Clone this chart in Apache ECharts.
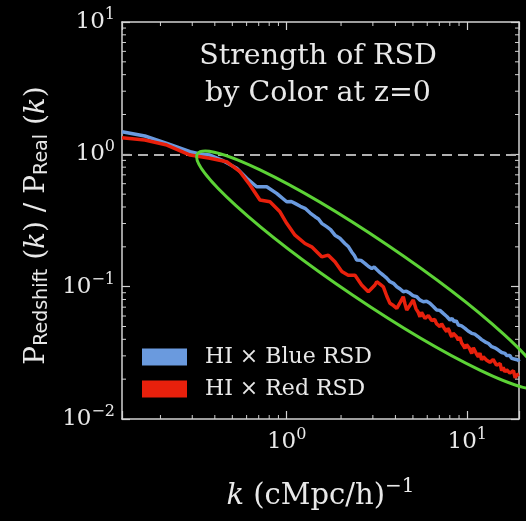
<!DOCTYPE html>
<html><head><meta charset="utf-8">
<script src="https://cdn.jsdelivr.net/npm/echarts@6/dist/echarts.min.js"></script>
<style>html,body{margin:0;padding:0;background:#000;}#c{width:526px;height:521px;}</style>
</head><body><div id="c"></div>
<script>
// ---- data ----
const blueK = [0.1225,0.164,0.217,0.292,0.331,0.376,0.444,0.529,0.601,0.682,0.775,0.88,1.0,1.06,1.112,1.19,1.263,1.35,1.435,1.5,1.563,1.664,1.75,1.85,1.97,2.10,2.2,2.29,2.37,2.44,2.58,2.71,2.84,2.96,3.05,3.15,3.3,3.43,3.58,3.73,3.9,4.07,4.16,4.25,4.33,4.42,4.51,4.6,4.7,4.82,4.91,5.0,5.12,5.25,5.35,5.45,5.58,5.71,5.83,5.95,6.08,6.21,6.35,6.5,6.63,6.77,6.9,7.05,7.2,7.36,7.53,7.7,7.86,8.02,8.23,8.45,8.68,8.92,9.1,9.3,9.5,9.71,9.9,10.1,10.35,10.58,10.8,11.0,11.25,11.51,11.75,12.0,12.25,12.53,12.8,13.1,13.35,13.65,13.9,14.2,14.5,14.85,15.2,15.5,15.8,16.17,16.5,16.9,17.2,17.6,18.0,18.4,18.8,19.16,19.33];
const blueP = [1.48,1.375,1.21,1.046,1.005,0.988,0.895,0.784,0.659,0.569,0.569,0.507,0.438,0.44,0.426,0.405,0.391,0.36,0.338,0.325,0.301,0.284,0.27,0.245,0.232,0.212,0.2,0.183,0.172,0.159,0.158,0.150,0.142,0.137,0.141,0.135,0.127,0.122,0.116,0.109,0.106,0.0998,0.0975,0.096,0.0945,0.0915,0.094,0.0925,0.0905,0.089,0.0875,0.0855,0.087,0.0839,0.0815,0.0795,0.0805,0.0769,0.079,0.0775,0.0755,0.0748,0.0725,0.0705,0.0715,0.0666,0.0685,0.0662,0.0645,0.0628,0.0635,0.0595,0.0605,0.056,0.0575,0.0545,0.0552,0.0513,0.0525,0.0505,0.0492,0.0484,0.0495,0.0462,0.047,0.0444,0.0452,0.0438,0.0425,0.0418,0.0408,0.0398,0.0405,0.0383,0.0388,0.0372,0.0362,0.0352,0.036,0.0345,0.0338,0.0332,0.0325,0.0318,0.0322,0.0313,0.0302,0.0296,0.0302,0.0287,0.029,0.0283,0.0275,0.0279,0.0272];
const redK = [0.1225,0.164,0.217,0.292,0.376,0.465,0.551,0.626,0.711,0.808,0.918,1.0,1.112,1.263,1.375,1.563,1.70,1.85,2.02,2.19,2.39,2.60,2.83,2.95,3.08,3.15,3.3,3.43,3.58,3.73,3.9,4.07,4.25,4.42,4.52,4.62,4.8,5.02,5.2,5.35,5.47,5.58,5.7,5.83,5.96,6.08,6.2,6.35,6.48,6.6,6.75,6.9,7.06,7.2,7.35,7.5,7.69,7.8,7.95,8.07,8.2,8.35,8.5,8.7,8.92,9.1,9.3,9.5,9.71,9.9,10.1,10.3,10.58,10.8,11.0,11.25,11.51,11.75,12.0,12.25,12.53,12.8,13.1,13.35,13.65,13.9,14.2,14.5,14.85,15.2,15.5,15.8,16.17,16.5,16.9,17.2,17.6,18.0,18.4,18.8,19.16,19.33];
const redP = [1.335,1.282,1.175,0.988,0.933,0.879,0.739,0.586,0.452,0.438,0.368,0.301,0.245,0.212,0.200,0.168,0.173,0.154,0.130,0.122,0.122,0.103,0.0915,0.097,0.103,0.109,0.104,0.0998,0.085,0.0748,0.072,0.0686,0.076,0.0839,0.074,0.0666,0.072,0.0792,0.068,0.064,0.0592,0.064,0.0625,0.0575,0.056,0.0605,0.0585,0.0555,0.0543,0.0565,0.0525,0.0535,0.0498,0.0525,0.051,0.0478,0.0456,0.0485,0.0465,0.0435,0.0418,0.0445,0.046,0.042,0.0395,0.0415,0.0375,0.036,0.0342,0.0365,0.037,0.034,0.0313,0.0345,0.0335,0.031,0.0295,0.0315,0.028,0.0295,0.0304,0.0278,0.0285,0.0268,0.0263,0.0282,0.0275,0.0255,0.0248,0.0262,0.0232,0.0245,0.0227,0.0236,0.024,0.0222,0.0221,0.0232,0.0205,0.0215,0.0208,0.0218];
const seriesNames = ['HI \u00d7 Blue RSD', 'HI \u00d7 Red RSD'];
const xRange = [0.1225, 19.33];
const yRange = [0.01, 10];
const xMinorTicks = [0.2,0.3,0.4,0.5,0.6,0.7,0.8,0.9,2,3,4,5,6,7,8,9];
const yMinorTicks = [0.02,0.03,0.04,0.05,0.06,0.07,0.08,0.09,0.2,0.3,0.4,0.5,0.6,0.7,0.8,0.9,2,3,4,5,6,7,8,9];
const titleLines = ['Strength of RSD', 'by Color at z=0'];
const refLine = 1;
const ellipseCenter = [2.89, 0.1335];

// ---- style ----
const TXT = '#e8e8e8', AX = '#d2d2d2', SERIF = 'DejaVu Serif', SANS = 'DejaVu Sans';
const BLUE = '#6a9ade', RED = '#e8200c', GREEN = '#5cd236';

function powLabel(v){
  const e = Math.log10(v), r = Math.round(e);
  if (Math.abs(e - r) > 1e-6) return '';
  return '{b|10}{s|' + (r < 0 ? '\u2212' + (-r) : r) + '}';
}
const labelRich = {
  b: {fontSize: 23, fontFamily: SERIF, color: TXT},
  s: {fontSize: 16, fontFamily: SERIF, color: TXT, padding: [0,0,14,0]}
};
function axisBase(extra){
  return Object.assign({
    type: 'log', logBase: 10,
    axisLine: {show: true, lineStyle: {color: AX, width: 1.5}},
    axisTick: {show: true, inside: true, length: 8, lineStyle: {color: AX, width: 1.2}},
    splitLine: {show: false}, minorTick: {show: false}, minorSplitLine: {show: false}
  }, extra);
}

const chart = echarts.init(document.getElementById('c'), null, {renderer: 'canvas'});

function minorTickSeries(vals, isX){
  return {
    type: 'custom', coordinateSystem: 'cartesian2d', xAxisIndex: 0, yAxisIndex: 0,
    silent: true, clip: false, z: 5,
    data: vals.map(v => isX ? [v, 1] : [1, v]),
    renderItem: function(params, api){
      const v = api.value(isX ? 0 : 1);
      const a = isX ? api.coord([v, yRange[0]]) : api.coord([xRange[0], v]);
      const b = isX ? api.coord([v, yRange[1]]) : api.coord([xRange[1], v]);
      const st = {stroke: AX, lineWidth: 1};
      return {type: 'group', children: isX ? [
        {type: 'line', shape: {x1: a[0], y1: a[1], x2: a[0], y2: a[1] - 4}, style: st},
        {type: 'line', shape: {x1: b[0], y1: b[1], x2: b[0], y2: b[1] + 4}, style: st}
      ] : [
        {type: 'line', shape: {x1: a[0], y1: a[1], x2: a[0] + 4, y2: a[1]}, style: st},
        {type: 'line', shape: {x1: b[0], y1: b[1], x2: b[0] - 4, y2: b[1]}, style: st}
      ]};
    }
  };
}

chart.setOption({
  backgroundColor: '#000',
  animation: false,
  title: {
    text: titleLines.join('\n'), left: 318, top: 38, textAlign: 'center', padding: 0,
    textStyle: {color: TXT, fontFamily: SERIF, fontSize: 28.5, fontWeight: 'normal', lineHeight: 37}
  },
  grid: {left: 122, right: 7, top: 22, bottom: 102, containLabel: false, outerBoundsMode: 'none'},
  legend: {
    orient: 'vertical', left: 142, top: 346, padding: 0, itemWidth: 45, itemHeight: 17, itemGap: 10,
    icon: 'rect', data: seriesNames,
    textStyle: {color: TXT, fontFamily: SERIF, fontSize: 22, lineHeight: 22, padding: [0,0,0,13]}
  },
  xAxis: [
    axisBase({position: 'bottom', min: xRange[0], max: xRange[1],
      axisLabel: {formatter: powLabel, rich: labelRich, margin: 8},
      name: '{i|k}{n| (cMpc/h)}{s|\u22121}', nameLocation: 'middle', nameGap: 58,
      nameTextStyle: {rich: {
        i: {fontSize: 29, fontFamily: SERIF, fontStyle: 'italic', color: TXT},
        n: {fontSize: 29, fontFamily: SERIF, color: TXT},
        s: {fontSize: 20, fontFamily: SERIF, color: TXT, padding: [0,0,18,0]}
      }}
    }),
    axisBase({position: 'top', min: xRange[0], max: xRange[1], axisLabel: {show: false}})
  ],
  yAxis: [
    axisBase({position: 'left', min: yRange[0], max: yRange[1],
      axisLabel: {formatter: powLabel, rich: labelRich, margin: 7},
      name: '{p|P}{u|Redshift}{p| (}{i|k}{p|) / P}{u|Real}{p| (}{i|k}{p|)}',
      nameLocation: 'middle', nameGap: 70, nameRotate: 90,
      nameTextStyle: {padding: [0, 10, 0, 0], rich: {
        p: {fontSize: 28, fontFamily: SERIF, color: TXT},
        i: {fontSize: 28, fontFamily: SERIF, fontStyle: 'italic', color: TXT},
        u: {fontSize: 19, fontFamily: SANS, color: TXT, padding: [11,0,0,0]}
      }}
    }),
    axisBase({position: 'right', min: yRange[0], max: yRange[1], axisLabel: {show: false}})
  ],
  series: [
    {
      name: seriesNames[0], type: 'line', xAxisIndex: 0, yAxisIndex: 0,
      data: blueK.map((k, i) => [k, blueP[i]]), showSymbol: false, symbol: 'none',
      color: BLUE, lineStyle: {color: BLUE, width: 3.5}, z: 3,
      markLine: {silent: true, symbol: 'none', label: {show: false}, z: 1,
        lineStyle: {color: '#b0b0b0', width: 2, type: [10, 6]},
        data: [{yAxis: refLine}]}
    },
    {
      name: seriesNames[1], type: 'line', xAxisIndex: 0, yAxisIndex: 0,
      data: redK.map((k, i) => [k, redP[i]]), showSymbol: false, symbol: 'none',
      color: RED, lineStyle: {color: RED, width: 3.5}, z: 4
    },
    minorTickSeries(xMinorTicks, true),
    minorTickSeries(yMinorTicks, false)
  ]
});

const c = chart.convertToPixel({xAxisIndex: 0, yAxisIndex: 0}, ellipseCenter);
chart.setOption({
  graphic: [{
    type: 'ellipse', x: c[0], y: c[1], rotation: -34 * Math.PI / 180,
    shape: {cx: 0, cy: 0, rx: 208, ry: 30.5}, silent: true, z: 50,
    style: {fill: 'none', stroke: GREEN, lineWidth: 3}
  }]
});
</script></body></html>
